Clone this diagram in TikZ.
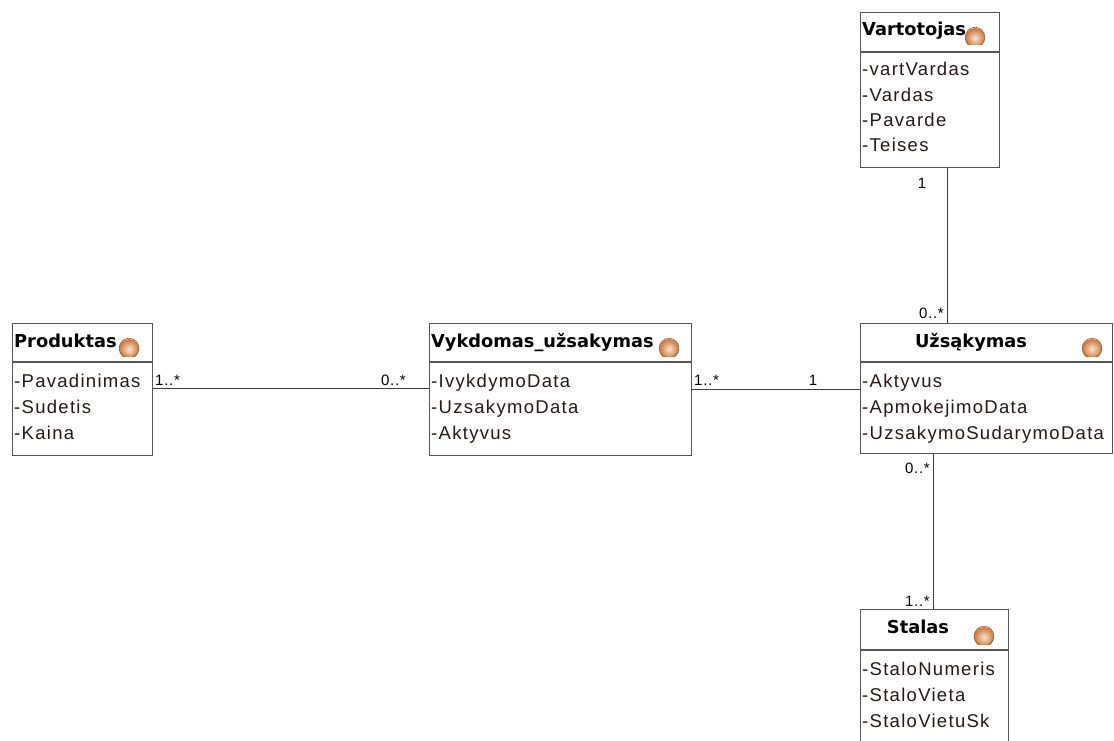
\documentclass[tikz,border=0pt]{standalone}
\usepackage{fontspec}
\newfontfamily\attrfam[LetterSpace=7]{Liberation Sans}
\newfontfamily\multfam[LetterSpace=5]{Liberation Sans}
\newfontfamily\headfam{DejaVu Sans}
\definecolor{boxgray}{RGB}{85,85,85}
\definecolor{linegray}{RGB}{60,60,60}
\definecolor{attrcol}{RGB}{40,24,24}
\definecolor{balllight}{RGB}{250,228,205}
\definecolor{balldark}{RGB}{200,118,62}
% orange class marker with a flat base
\newcommand\classball[2]{%
  \begin{scope}
    \clip (#1-11,#2-11) rectangle (#1+11,#2+8);
    \shade[inner color=balllight, outer color=balldark] (#1,#2+1) circle[radius=10pt];
    \draw[balldark!80!black, line width=0.6pt] (#1,#2) circle[radius=9.8pt];
  \end{scope}}
\tikzset{
  classbox/.style={draw=boxgray, line width=1.4pt, fill=white, anchor=north west, inner sep=0pt},
  sepline/.style={draw=boxgray, line width=1.4pt},
  head/.style={font=\headfam\bfseries\fontsize{17.8}{20}\selectfont, text=black, inner sep=0pt},
  attr/.style={font=\attrfam\fontsize{18.5}{21}\selectfont, text=attrcol, anchor=base west, inner sep=0pt},
  mult/.style={font=\multfam\fontsize{15}{17}\selectfont, text=black, inner sep=0pt},
  assoc/.style={draw=linegray, line width=1pt}
}
\begin{document}
\begin{tikzpicture}[x=1pt,y=-1pt]
\useasboundingbox[fill=white] (0,0) rectangle (1114,741);
\clip (0,0) rectangle (1114,741);

% class boxes
\node[classbox, minimum width=140, minimum height=132] (prod) at (12,323) {};
\node[classbox, minimum width=262, minimum height=132] (vyk) at (429,323) {};
\node[classbox, minimum width=252, minimum height=130] (uzs) at (860,323) {};
\node[classbox, minimum width=139, minimum height=155] (vart) at (860,12) {};
\node[classbox, minimum width=148, minimum height=160] (stal) at (860,609) {};

% header separators
\draw[sepline] (prod.west |- 0,362) -- (prod.east |- 0,362);
\draw[sepline] (vyk.west |- 0,362) -- (vyk.east |- 0,362);
\draw[sepline] (uzs.west |- 0,362) -- (uzs.east |- 0,362);
\draw[sepline] (vart.west |- 0,52) -- (vart.east |- 0,52);
\draw[sepline] (stal.west |- 0,650) -- (stal.east |- 0,650);

% class names
\node[head, anchor=base west] (prod-h) at (14,347) {Produktas};
\node[head, anchor=base west] (vyk-h) at (431,347) {Vykdomas\_užsakymas};
\node[head, anchor=base] (uzs-h) at (971,347) {Užsąkymas};
\node[head, anchor=base west] (vart-h) at (862,36) {Vartotojas};
\node[head, anchor=base] (stal-h) at (918,633) {Stalas};

\classball{129}{348}
\classball{669}{348}
\classball{1092}{348}
\classball{975}{37}
\classball{984}{636}

% attributes
\node[attr] (prod-a1) at (14,387) {-Pavadinimas};
\node[attr] (prod-a2) at (14,413) {-Sudetis};
\node[attr] (prod-a3) at (14,439) {-Kaina};

\node[attr] (vyk-a1) at (431,387) {-IvykdymoData};
\node[attr] (vyk-a2) at (431,413) {-UzsakymoData};
\node[attr] (vyk-a3) at (431,439) {-Aktyvus};

\node[attr] (uzs-a1) at (862,387) {-Aktyvus};
\node[attr] (uzs-a2) at (862,413) {-ApmokejimoData};
\node[attr] (uzs-a3) at (862,439) {-UzsakymoSudarymoData};

\node[attr] (vart-a1) at (862,76) {-vartVardas};
\node[attr] (vart-a2) at (862,102) {-Vardas};
\node[attr] (vart-a3) at (862,127) {-Pavarde};
\node[attr] (vart-a4) at (862,152) {-Teises};

\node[attr] (stal-a1) at (862,675) {-StaloNumeris};
\node[attr] (stal-a2) at (862,701) {-StaloVieta};
\node[attr] (stal-a3) at (862,727) {-StaloVietuSk};

% associations
\draw[assoc] (prod.east |- 0,388) -- (vyk.west |- 0,388);
\draw[assoc] (vyk.east |- 0,389) -- (uzs.west |- 0,389);
\draw[assoc] (vart.south -| 947,0) -- (uzs.north -| 947,0);
\draw[assoc] (uzs.south -| 933,0) -- (stal.north -| 933,0);

% multiplicities
\node[mult, anchor=base west] (m1) at (155,385) {1..*};
\node[mult, anchor=base east] (m2) at (406,385) {0..*};
\node[mult, anchor=base west] (m3) at (694,385) {1..*};
\node[mult, anchor=base] (m4) at (813,385) {1};
\node[mult, anchor=base] (m5) at (922,189) {1};
\node[mult, anchor=base east] (m6) at (944,318) {0..*};
\node[mult, anchor=base east] (m7) at (930,473) {0..*};
\node[mult, anchor=base east] (m8) at (930,606) {1..*};
\end{tikzpicture}
\end{document}
